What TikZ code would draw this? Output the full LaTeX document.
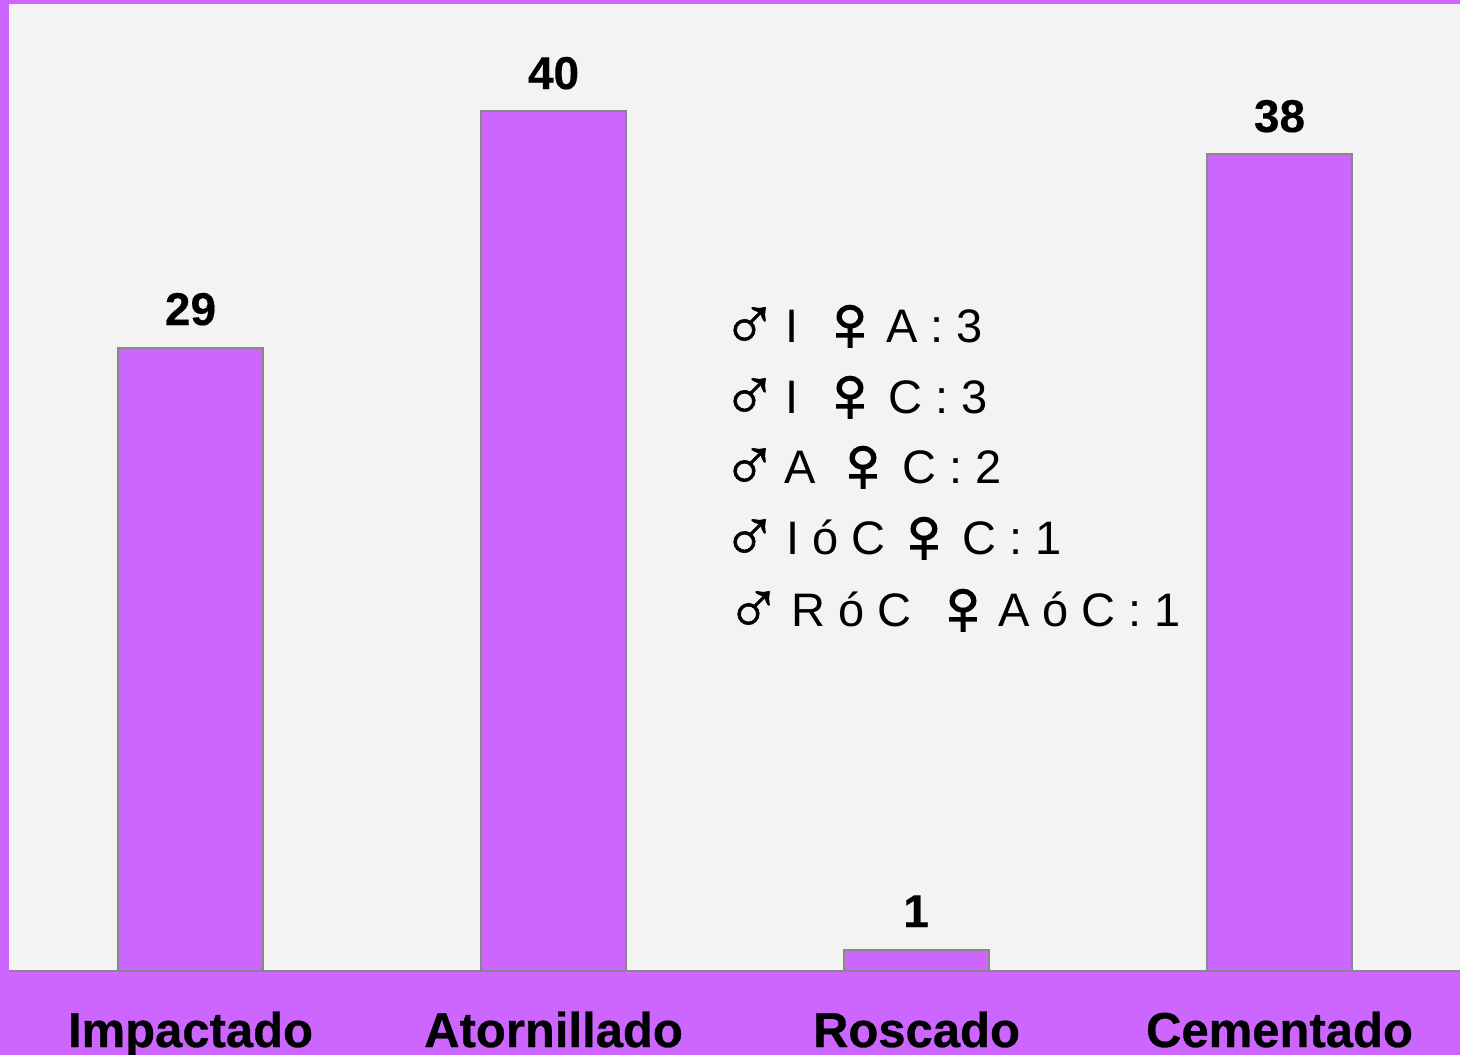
\documentclass[tikz,border=0pt]{standalone}
\usepackage{fontspec}
\setmainfont{Liberation Sans}
\newfontfamily\mascfont[FakeBold=0.8]{Liberation Sans}
\newfontfamily\femfont[FakeBold=2.2,FakeStretch=1.14]{Liberation Sans}
\newfontfamily\labfont[FakeBold=0.6]{Liberation Sans Bold}
\newfontfamily\valfont[FakeBold=0.3]{Liberation Sans Bold}
\definecolor{violeta}{HTML}{CC66FF}
\definecolor{panel}{HTML}{F3F3F3}
\definecolor{eje}{HTML}{888888}
\tikzset{
  barra/.style={draw=eje,line width=1.5pt,fill=violeta},
  valor/.style={anchor=base,inner sep=0pt,font=\fontsize{46}{46}\valfont},
  categoria/.style={anchor=base,inner sep=0pt,font=\fontsize{49}{49}\labfont},
  texto/.style={anchor=base west,inner sep=0pt,font=\fontsize{47}{48}\selectfont},
  masc/.style={anchor=base west,inner sep=0pt,font=\fontsize{76}{76}\mascfont},
  fem/.style={anchor=base west,inner sep=0pt,font=\fontsize{79}{79}\femfont}
}
\begin{document}
\begin{tikzpicture}[x=1pt,y=-1pt]
\useasboundingbox (0,0) rectangle (1460,1055);
\fill[violeta] (0,0) rectangle (1460,1055);
\fill[panel] (9,4) rectangle (1460,971);
\draw[eje,line width=1.5pt] (9,971) -- (1460,971);
\draw[barra] (118,971) rectangle (263,348);
\draw[barra] (481,971) rectangle (626,111);
\draw[barra] (844,971) rectangle (989,950);
\draw[barra] (1207,971) rectangle (1352,154);
\node[valor] (v1) at (190.5,325) {29};
\node[valor] (v2) at (553.5,89) {40};
\node[valor] (v3) at (916,927) {1};
\node[valor] (v4) at (1279.5,132) {38};
\node[categoria] (c1) at (190.5,1047) {Impactado};
\node[categoria] (c2) at (553.5,1047) {Atornillado};
\node[categoria] (c3) at (916.5,1047) {Roscado};
\node[categoria] (c4) at (1279.5,1047) {Cementado};
% line 1
\node[masc] (m1) at (721,350) {♂};
\node[texto] (a1) at (785,342) {I};
\node[fem] (f1) at (816,350) {♀};
\node[texto] (b1) at (886,342) {A : 3};
% line 2
\node[masc] (m2) at (721,421) {♂};
\node[texto] (a2) at (785,413) {I};
\node[fem] (f2) at (816,421) {♀};
\node[texto] (b2) at (888,413) {C : 3};
% line 3
\node[masc] (m3) at (721,491) {♂};
\node[texto] (a3) at (784,483) {A};
\node[fem] (f3) at (829,491) {♀};
\node[texto] (b3) at (902,483) {C : 2};
% line 4
\node[masc] (m4) at (721,562) {♂};
\node[texto] (a4) at (786,554) {I ó C};
\node[fem] (f4) at (890,562) {♀};
\node[texto] (b4) at (962,554) {C : 1};
% line 5
\node[masc] (m5) at (725,634) {♂};
\node[texto] (a5) at (791,626) {R ó C};
\node[fem] (f5) at (929,634) {♀};
\node[texto] (b5) at (998,626) {A ó C : 1};
\end{tikzpicture}
\end{document}
